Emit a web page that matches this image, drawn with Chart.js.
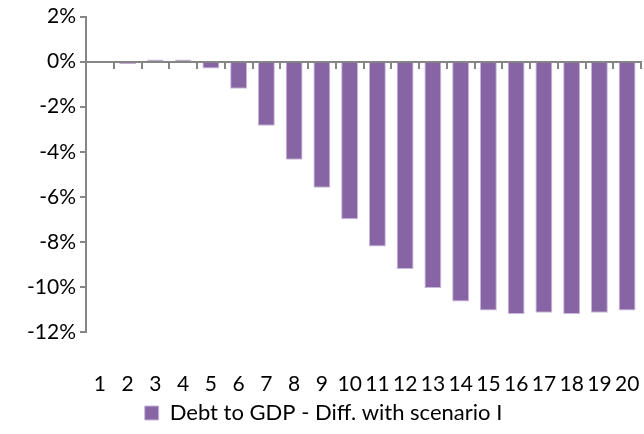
<!DOCTYPE html>
<html>
<head>
<meta charset="utf-8">
<script src="https://cdn.jsdelivr.net/npm/chart.js@4"></script>
<style>
  body { margin: 0; background: #fff; }
  #wrap { width: 644px; height: 434px; }
</style>
</head>
<body>
<div id="wrap"><canvas id="myChart"></canvas></div>
<script>
// years of the projection
const years = ['1', '2', '3', '4', '5', '6', '7', '8', '9', '10',
  '11', '12', '13', '14', '15', '16', '17', '18', '19', '20'];

// debt to GDP, difference with scenario I (in %)
const diffScenarioI = [0, -0.1, 0.1, 0.1, -0.3, -1.2, -2.85, -4.35, -5.6, -7.0,
  -8.2, -9.2, -10.05, -10.65, -11.05, -11.2, -11.15, -11.2, -11.15, -11.05];

const yMin = -12;
const yMax = 2;
const yStep = 2;

const axisGrey = '#868686';
const font = { family: 'Lato', size: 21 };

const data = {
  labels: years,
  datasets: [{
    label: 'Debt to GDP - Diff. with scenario I',
    data: diffScenarioI,
    xAxisID: 'x',
    backgroundColor: '#8764A3',
    borderColor: '#C9B8DB',
    borderWidth: 1,
    categoryPercentage: 1,
    barPercentage: 0.61
  }]
};

const config = {
  type: 'bar',
  data: data,
  options: {
    responsive: true,
    maintainAspectRatio: false,
    animation: false,
    layout: { padding: { top: 14, left: 6, right: 3, bottom: 0 } },
    plugins: {
      tooltip: { enabled: false },
      legend: {
        position: 'bottom',
        labels: {
          color: '#000',
          font: { family: 'Lato', size: 22 },
          boxWidth: 14,
          boxHeight: 14,
          padding: 8
        }
      }
    },
    scales: {
      // labels along the bottom; invisible tick marks push them down
      x: {
        position: 'bottom',
        afterFit: function (scale) { scale.height = 62; },
        grid: {
          display: true,
          drawOnChartArea: false,
          drawTicks: true,
          tickLength: 38,
          color: 'rgba(0,0,0,0)'
        },
        border: { display: false },
        ticks: {
          color: '#000',
          font: font,
          padding: 2,
          maxRotation: 0,
          autoSkip: false
        }
      },
      // axis line with tick marks sitting on 0%
      x0: {
        type: 'category',
        labels: years,
        position: { y: 0 },
        offset: true,
        grid: {
          offset: true,
          drawOnChartArea: false,
          drawTicks: true,
          tickLength: 6,
          color: axisGrey,
          lineWidth: 2
        },
        border: { display: true, color: axisGrey, width: 2 },
        ticks: { display: false }
      },
      y: {
        min: yMin,
        max: yMax,
        afterFit: function (scale) { scale.width = 80; },
        grid: {
          drawOnChartArea: false,
          drawTicks: true,
          tickLength: 6,
          color: axisGrey,
          lineWidth: 2
        },
        border: { display: true, color: axisGrey, width: 2 },
        ticks: {
          stepSize: yStep,
          color: '#000',
          font: font,
          padding: 4,
          callback: v => v + '%'
        }
      }
    }
  }
};

const myChart = new Chart(document.getElementById('myChart'), config);
</script>
</body>
</html>
